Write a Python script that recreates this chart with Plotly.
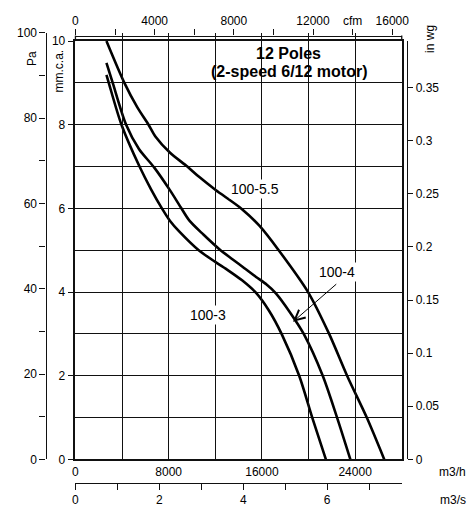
import plotly.graph_objects as go

W, H = 476, 517

# ---- data (m3/h , mm c.a.) ----
q_55 = [2660, 4200, 5300, 6270, 6860, 8120, 9600, 10580, 12030, 14220, 15800, 17440, 19960, 21770, 23310, 25000, 26500]
p_55 = [10.0, 9.0, 8.42, 8.0, 7.72, 7.33, 7.0, 6.76, 6.44, 6.0, 5.58, 5.0, 4.0, 3.0, 2.0, 1.0, 0.0]

q_4 = [2660, 3200, 4350, 5450, 6750, 8120, 9050, 9800, 11000, 12450, 13500, 14500, 15500, 16400, 17200, 18400, 19590, 21220, 22450, 23590]
p_4 = [9.48, 9.0, 8.0, 7.42, 6.98, 6.43, 6.02, 5.70, 5.37, 5.0, 4.78, 4.57, 4.36, 4.18, 3.97, 3.52, 3.0, 2.0, 1.0, 0.0]

q_3 = [2660, 2860, 3950, 5500, 6500, 7420, 8120, 8900, 10580, 12000, 13100, 14300, 15500, 16600, 17690, 19200, 20320, 21490]
p_3 = [9.19, 9.0, 8.0, 7.0, 6.45, 6.0, 5.70, 5.45, 5.0, 4.72, 4.52, 4.28, 3.98, 3.56, 3.0, 2.0, 1.0, 0.0]

curve_names = ["100-5.5", "100-4", "100-3"]
label_q = [15410, 22450, 11380]
label_p = [6.47, 4.47, 3.45]
arrow_head = (18670, 3.29)
arrow_tail = (22510, 4.22)

title_lines = ["12 Poles", "(2-speed 6/12 motor)"]

# ---- tick labels ----
m3h_ticks = [0, 8000, 16000, 24000]
m3h_text = ["0", "8000", "16000", "24000"]
mm_ticks = [0, 2, 4, 6, 8, 10]
pa_ticks = [0, 20, 40, 60, 80, 100]
pa_minor = [10, 30, 50, 70, 90]
inwg_ticks = [0, 0.05, 0.1, 0.15, 0.2, 0.25, 0.3, 0.35]
inwg_text = ["0", "0.05", "0.1", "0.15", "0.2", "0.25", "0.3", "0.35"]
cfm_tickvals = [0, 2000, 4000, 6000, 8000, 10000, 12000, 14000, 16000]
cfm_ticktext = ["0", "", "4000", "", "8000", "", "12000", "cfm", "16000"]
m3s_tickvals = [0, 1, 2, 3, 4, 5, 6, 7]
m3s_ticktext = ["0", "", "2", "", "4", "", "6", ""]

Q_MAX = 28000
MM_MAX = 10
PA_PER_MM = 9.80665
MM_PER_INWG = 25.4
M3H_PER_CFM = 1.69901
PA_MAX = 100

# ---- geometry (pixels) ----
L, R, TOP, BOT = 74, 407.3, 35, 465
CFM_LINE = 29.3
def fx(px): return px / W
def fy(py): return 1 - py / H
mm_px = (BOT - TOP) / MM_MAX
pa_top_px = BOT - PA_MAX / PA_PER_MM * mm_px

FONT = "Liberation Sans, Arial, sans-serif"
tickfont = dict(family=FONT, size=12, color="black")
AX = "#111"

fig = go.Figure()
for q, p in [(q_55, p_55), (q_4, p_4), (q_3, p_3)]:
    fig.add_trace(go.Scatter(x=q, y=p, mode="lines", xaxis="x", yaxis="y",
                             line=dict(color="black", width=2.6, shape="spline", smoothing=0.8),
                             hoverinfo="skip", showlegend=False))
# invisible anchors so that the auxiliary axes are drawn
for xa, ya in [("x", "y2"), ("x", "y3"), ("x2", "y"), ("x3", "y")]:
    fig.add_trace(go.Scatter(x=[0], y=[0], xaxis=xa, yaxis=ya, mode="markers",
                             marker=dict(opacity=0), hoverinfo="skip", showlegend=False))

grid = dict(showgrid=True, gridcolor=AX, gridwidth=1.2)

fig.update_layout(
    width=W, height=H, autosize=False,
    margin=dict(l=0, r=0, t=0, b=0),
    paper_bgcolor="white", plot_bgcolor="rgba(0,0,0,0)",
    font=dict(family=FONT, size=12, color="black"),
    showlegend=False,
    xaxis=dict(domain=[fx(L), fx(R)], range=[0, Q_MAX], anchor="y",
               tickmode="array", tickvals=m3h_ticks, ticktext=m3h_text, ticks="", tickfont=tickfont,
               showline=True, linecolor=AX, linewidth=1.5, mirror=True,
               minor=dict(dtick=4000, tick0=0, showgrid=True, gridcolor=AX, gridwidth=1.2),
               zeroline=False, fixedrange=True, **grid),
    yaxis=dict(domain=[fy(BOT), fy(TOP)], range=[0, MM_MAX], anchor="x",
               tickmode="array", tickvals=mm_ticks, ticks="outside", ticklen=6,
               tickcolor=AX, tickfont=tickfont,
               showline=True, linecolor=AX, linewidth=1.5, mirror=True,
               minor=dict(dtick=1, tick0=0, showgrid=True, gridcolor=AX, gridwidth=1.2),
               zeroline=False, fixedrange=True, **grid),
    yaxis2=dict(domain=[fy(BOT), fy(pa_top_px)], range=[0, PA_MAX], anchor="free",
                position=fx(43.5), side="left",
                tickmode="array", tickvals=pa_ticks, ticks="outside", ticklen=6,
                tickcolor=AX, tickfont=tickfont,
                minor=dict(tickvals=pa_minor, ticks="outside", ticklen=6, tickcolor=AX, showgrid=False),
                showline=True, linecolor=AX, linewidth=1.3,
                showgrid=False, zeroline=False, fixedrange=True),
    yaxis3=dict(overlaying="y", range=[0, MM_MAX / MM_PER_INWG], anchor="free",
                position=fx(412.8), side="right",
                tickmode="array", tickvals=inwg_ticks, ticktext=inwg_text,
                ticks="outside", ticklen=5, tickcolor=AX, tickfont=tickfont,
                showline=True, linecolor=AX, linewidth=1.3,
                showgrid=False, zeroline=False, fixedrange=True),
    xaxis2=dict(overlaying="x", range=[0, Q_MAX / M3H_PER_CFM], anchor="free",
                position=fy(CFM_LINE), side="top",
                tickmode="array", tickvals=cfm_tickvals, ticktext=cfm_ticktext,
                ticks="outside", ticklen=6, tickcolor=AX, tickfont=tickfont,
                showline=True, linecolor=AX, linewidth=1.3,
                showgrid=False, zeroline=False, fixedrange=True),
    xaxis3=dict(overlaying="x", range=[0, Q_MAX / 3600], anchor="free",
                position=fy(489), side="bottom",
                tickmode="array", tickvals=m3s_tickvals, ticktext=m3s_ticktext,
                ticks="outside", ticklen=6, tickcolor=AX, tickfont=tickfont,
                showline=True, linecolor=AX, linewidth=1.3,
                showgrid=False, zeroline=False, fixedrange=True),
)

ann = []
# curve labels
for name, lq, lp in zip(curve_names, label_q, label_p):
    ann.append(dict(x=lq, y=lp, xref="x", yref="y", text=name, showarrow=False,
                    font=dict(family=FONT, size=14, color="black"),
                    bgcolor="white", borderpad=1))
# arrow for 100-4
ann.append(dict(x=arrow_head[0], y=arrow_head[1], ax=arrow_tail[0], ay=arrow_tail[1],
                xref="x", yref="y", axref="x", ayref="y", text="", showarrow=True,
                arrowhead=5, arrowsize=2, arrowwidth=1, arrowcolor="black"))
# title
title_y_px = [48.3, 66.7]
for t, ty in zip(title_lines, title_y_px):
    ann.append(dict(x=fx(291.7), y=fy(ty), xref="paper", yref="paper", text="<b>%s</b>" % t,
                    showarrow=False, font=dict(family=FONT, size=16, color="black"),
                    xanchor="center", yanchor="middle"))
# axis unit labels
units = [("Pa", 29, 53, -90), ("mm.c.a.", 57.5, 66, -90), ("in wg", 436, 33, -90),
         ("m3/h", 459, 478, 0), ("m3/s", 460, 507, 0)]
for t, ux, uy, ang in units:
    ann.append(dict(x=fx(ux), y=fy(uy), xref="paper", yref="paper", text=t, showarrow=False,
                    textangle=ang, font=dict(family=FONT, size=12, color="black"),
                    xanchor="center", yanchor="middle"))
fig.update_layout(annotations=ann)

# white box behind the title (hides the grid there)
fig.add_shape(type="rect", xref="paper", yref="paper",
              x0=fx(205), x1=fx(380), y0=fy(76.5), y1=fy(TOP),
              fillcolor="white", line=dict(width=0), layer="between")
# frame sides continue up to the cfm scale
for px in (L, R):
    fig.add_shape(type="line", xref="paper", yref="paper",
                  x0=fx(px), x1=fx(px), y0=fy(TOP), y1=fy(CFM_LINE),
                  line=dict(color=AX, width=1.3))

fig.write_html("out.html", config={"displayModeBar": False},
               post_script="document.body.style.margin='0px';document.body.style.overflow='hidden';")
